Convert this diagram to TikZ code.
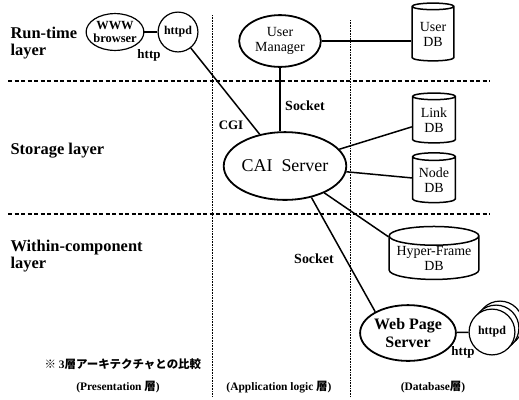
\documentclass[tikz,border=0pt]{standalone}
\usepackage{fontspec}
\setmainfont{Liberation Serif}
\newfontfamily\jpfont{Noto Sans CJK JP}
\usetikzlibrary{shapes.geometric}

\begin{document}
\begin{tikzpicture}[
  x=1bp, y=-1bp,
  proc/.style={draw, ellipse, line width=1.8bp, inner sep=0pt, align=center, font=\fontsize{14}{15}\selectfont},
  small/.style={draw, ellipse, line width=1.2bp, inner sep=0pt, align=center, font=\bfseries\fontsize{12}{12}\selectfont},
  db/.style={draw, cylinder, shape border rotate=90, aspect=0.25, line width=1.5bp, inner sep=0pt, align=center, font=\fontsize{14}{15}\selectfont},
  layer/.style={anchor=west, align=left, font=\bfseries\fontsize{16.5}{17}\selectfont},
  lbl/.style={font=\bfseries\fontsize{13}{14}\selectfont},
  tier/.style={font=\bfseries\fontsize{11.5}{12}\selectfont},
  line/.style={line width=1.5bp},
  sep/.style={line width=1.2bp, dash pattern=on 4bp off 2.5bp},
  col/.style={line width=0.9bp, dash pattern=on 0.8bp off 0.8bp}
]
\useasboundingbox (0,0) rectangle (519,399);

% layer and tier separators
\draw[sep] (8,81) -- (490,81);
\draw[sep] (8,214) -- (490,214);
\draw[col] (212,15) -- (212,397);
\draw[col] (350,20) -- (350,397);

\node[layer] (runtime) at (7,43) {Run-time\\layer};
\node[layer] (storage) at (7,151) {Storage layer};
\node[layer] (within) at (7,256) {Within-component\\layer};

\node[small, minimum width=58, minimum height=37, inner xsep=-7bp, inner ysep=-3bp, font=\bfseries\fontsize{12.5}{12.5}\selectfont] (browser) at (115,32) {WWW\\browser};
\node[small, circle, minimum size=40] (httpd) at (178,32) {httpd};
\node[proc, minimum width=82, minimum height=52] (manager) at (280,41) {User\\Manager};
\node[proc, minimum width=106, minimum height=68, font=\fontsize{18}{20}\selectfont] (cai) at (285,166) {CAI\ \ Server};
\node[db, minimum width=42, minimum height=58] (userdb) at (433,34) {User\\DB};
\node[db, minimum width=43, minimum height=50] (linkdb) at (434,120) {Link\\DB};
\node[db, minimum width=43, minimum height=50] (nodedb) at (434,180) {Node\\DB};
\node[db, minimum width=90, minimum height=51] (hyperdb) at (434,258) {Hyper-Frame\\DB};
\node[proc, minimum width=86, minimum height=56, font=\bfseries\fontsize{16}{18}\selectfont] (webserver) at (408,333) {Web Page\\Server};
\node[small, circle, fill=white, minimum size=46] (httpdc) at (500,324) {};
\node[small, circle, fill=white, minimum size=46] (httpdb) at (496,328) {};
\node[small, circle, fill=white, minimum size=46] (httpda) at (492,332) {httpd};

\draw[line] (browser) -- (httpd);
\draw[line] (httpd) -- (cai);
\draw[line] (manager.east) -- (manager.east -| userdb.west);
\draw[line] (manager.south) -- (manager.south |- cai.north);
\draw[line] (cai) -- (linkdb);
\draw[line] (cai) -- (nodedb);
\draw[line] (cai) -- (hyperdb.155);
\draw[line] (cai.-50) -- (webserver.147);
\draw[line] (webserver) -- (httpda);

\node[lbl] (httplabel) at (149,55) {http};
\node[lbl] (cgi) at (231,125) {CGI};
\node[lbl, font=\bfseries\fontsize{14}{15}\selectfont] (socketa) at (305,106) {Socket};
\node[lbl, font=\bfseries\fontsize{14}{15}\selectfont] (socketb) at (314,259) {Socket};
\node[lbl] (httplabelb) at (463,352) {http};

\node[tier, anchor=west] (note) at (41,364) {{\jpfont ※} 3{\jpfont 層アーキテクチャとの比較}};
\node[tier] (present) at (118,387) {(Presentation {\jpfont 層})};
\node[tier] (applogic) at (279,387) {(Application logic {\jpfont 層})};
\node[tier] (database) at (433,387) {(Database{\jpfont 層})};
\end{tikzpicture}
\end{document}
